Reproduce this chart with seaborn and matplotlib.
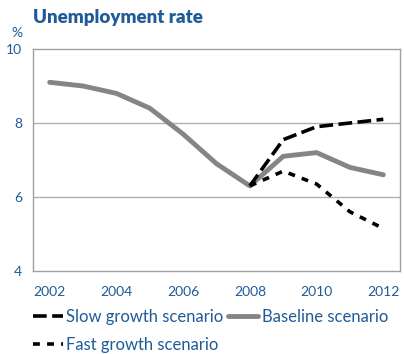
import numpy as np
import pandas as pd
import matplotlib
matplotlib.use("Agg")
import matplotlib.pyplot as plt
import seaborn as sns

sns.set_style("white")
plt.rcParams['font.family'] = ['Lato', 'DejaVu Sans']

years = list(range(2002, 2013))
baseline = [9.1, 9.0, 8.8, 8.4, 7.7, 6.9, 6.3, 7.1, 7.2, 6.8, 6.6]
scen_years = list(range(2008, 2013))
slow = [6.3, 7.55, 7.9, 8.0, 8.1]
fast = [6.3, 6.7, 6.35, 5.6, 5.15]

blue = '#1f5b98'
grey = '#8c8c8c'

df = pd.concat([
    pd.DataFrame({'year': scen_years, 'value': slow, 'series': 'Slow growth scenario'}),
    pd.DataFrame({'year': scen_years, 'value': fast, 'series': 'Fast growth scenario'}),
    pd.DataFrame({'year': years, 'value': baseline, 'series': 'Baseline scenario'}),
])

fig = plt.figure(figsize=(4.04, 3.54), dpi=100)
ax = fig.add_axes([33 / 404, 1 - 271 / 354, 367 / 404, 222 / 354])

ax.axhline(8, color='#b0b0b0', lw=1, zorder=0)
ax.axhline(6, color='#b0b0b0', lw=1, zorder=0)

sns.lineplot(data=df[df.series == 'Baseline scenario'], x='year', y='value',
             color='#858585', linewidth=3.5, ax=ax, label='Baseline scenario',
             zorder=2)
sns.lineplot(data=df[df.series == 'Slow growth scenario'], x='year', y='value',
             color='black', linewidth=2.6, ax=ax, label='Slow growth scenario',
             zorder=3)
sns.lineplot(data=df[df.series == 'Fast growth scenario'], x='year', y='value',
             color='black', linewidth=2.6, ax=ax, label='Fast growth scenario',
             zorder=3)
lines = ax.get_lines()
lines[-2].set_dashes([3.8, 1.5])
lines[-1].set_dashes([1.9, 2.0])

ax.set_xlim(2001.5, 2012.5)
ax.set_ylim(4, 10)
ax.set_xticks([2002, 2004, 2006, 2008, 2010, 2012])
ax.set_xticks(np.arange(2002.5, 2012.5, 1), minor=True)
ax.set_yticks([4, 6, 8, 10])
ax.tick_params(axis='x', which='major', length=0, labelsize=10,
               labelcolor=blue, pad=11)
ax.tick_params(axis='x', which='minor', length=3, direction='in',
               color=grey, width=0.8)
ax.tick_params(axis='y', length=3, direction='in', color='#333333',
               labelsize=10, labelcolor=blue, pad=8)
for s in ax.spines.values():
    s.set_color('#a0a0a0')
    s.set_linewidth(1)
ax.set_xlabel('')
ax.set_ylabel('')
ax.legend_.remove()

fig.text(33 / 404, 1 - 17 / 354, 'Unemployment rate', fontsize=13.5,
         fontweight='heavy', color=blue, va='center', ha='left')
fig.text(17 / 404, 1 - 33 / 354, '%', fontsize=10, color=blue,
         va='center', ha='center')

handles, labels = ax.get_legend_handles_labels()
order = [labels.index('Slow growth scenario'), labels.index('Fast growth scenario'),
         labels.index('Baseline scenario')]
fig.legend([handles[i] for i in order], [labels[i] for i in order],
           ncol=2, loc='upper left', bbox_to_anchor=(26 / 404, 1 - 302 / 354),
           frameon=False, fontsize=12, labelcolor=blue,
           handlelength=1.8, handletextpad=0.2, columnspacing=0.3,
           labelspacing=0.75, borderaxespad=0.0)

fig.savefig('out.png', dpi=100)
